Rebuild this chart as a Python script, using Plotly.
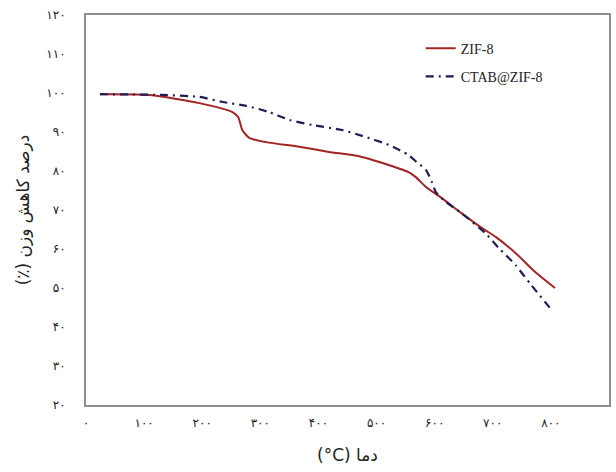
import plotly.graph_objects as go

# ZIF-8 curve
zif_x = [24, 110, 195, 252, 262, 269, 281, 310, 367, 418, 470, 509, 555, 567, 585, 610, 646, 681, 705, 739, 773, 807]
zif_y = [99.7, 99.5, 97.4, 95.1, 93.8, 90.5, 88.5, 87.4, 86.2, 84.9, 83.8, 82.1, 79.7, 78.5, 75.9, 73.3, 69.2, 65.4, 63.1, 59.0, 54.1, 50.0]

# CTAB@ZIF-8 curve
ctab_x = [24, 132, 195, 235, 276, 315, 350, 389, 441, 475, 521, 555, 569, 585, 595, 602, 619, 646, 687, 710, 739, 766, 801]
ctab_y = [99.7, 99.5, 99.0, 97.7, 96.7, 95.1, 93.1, 91.8, 90.5, 89.0, 86.7, 84.1, 82.3, 80.3, 77.2, 74.6, 72.1, 69.2, 64.1, 60.3, 55.9, 50.8, 44.4]

x_ticks = [0, 100, 200, 300, 400, 500, 600, 700, 800, 900]
y_ticks = [20, 30, 40, 50, 60, 70, 80, 90, 100, 110, 120]

x_title = "\u202bدما (\u202a°C\u202c)\u202c"
y_title = "\u202bدرصد کاهش وزن (٪)\u202c"

def fa(n):
    return str(n).translate(str.maketrans("0123456789", "۰۱۲۳۴۵۶۷۸۹"))

fig = go.Figure()
fig.add_trace(go.Scatter(x=zif_x, y=zif_y, mode="lines", name="ZIF-8", legendgroup="a",
                         line=dict(color="#A32424", width=2, shape="spline", smoothing=0.6)))
fig.add_trace(go.Scatter(x=ctab_x, y=ctab_y, mode="lines", name="CTAB@ZIF-8", legendgroup="b",
                         line=dict(color="#1E1E55", width=2.2, dash="8px,5px,2px,5px",
                                   shape="spline", smoothing=0.6)))

axis_common = dict(showline=True, mirror=True, linecolor="#8f8f8f", linewidth=2,
                   showgrid=False, zeroline=False, ticks="",
                   tickfont=dict(family="DejaVu Sans", size=12, color="#222"))

fig.update_layout(
    width=616, height=472,
    margin=dict(l=86, r=5, t=15, b=67),
    paper_bgcolor="white", plot_bgcolor="white",
    showlegend=True,
    legend=dict(x=0.64, y=0.955, xanchor="left", yanchor="top",
                font=dict(family="Liberation Serif", size=14, color="#222"),
                bgcolor="rgba(0,0,0,0)", tracegroupgap=7),
    xaxis=dict(range=[0, 900], tickvals=x_ticks, ticktext=[fa(v) for v in x_ticks],
               title=dict(text=x_title, font=dict(family="DejaVu Sans", size=17, color="#222"), standoff=20),
               **axis_common),
    yaxis=dict(range=[20, 120], tickvals=y_ticks, ticktext=[fa(v) for v in y_ticks],
               title=dict(text=y_title, font=dict(family="DejaVu Sans", size=17, color="#222"), standoff=12),
               **axis_common),
)
fig.update_xaxes(ticklabelstandoff=6)
fig.update_yaxes(ticklabelstandoff=16)

fig.write_html("out.html")
